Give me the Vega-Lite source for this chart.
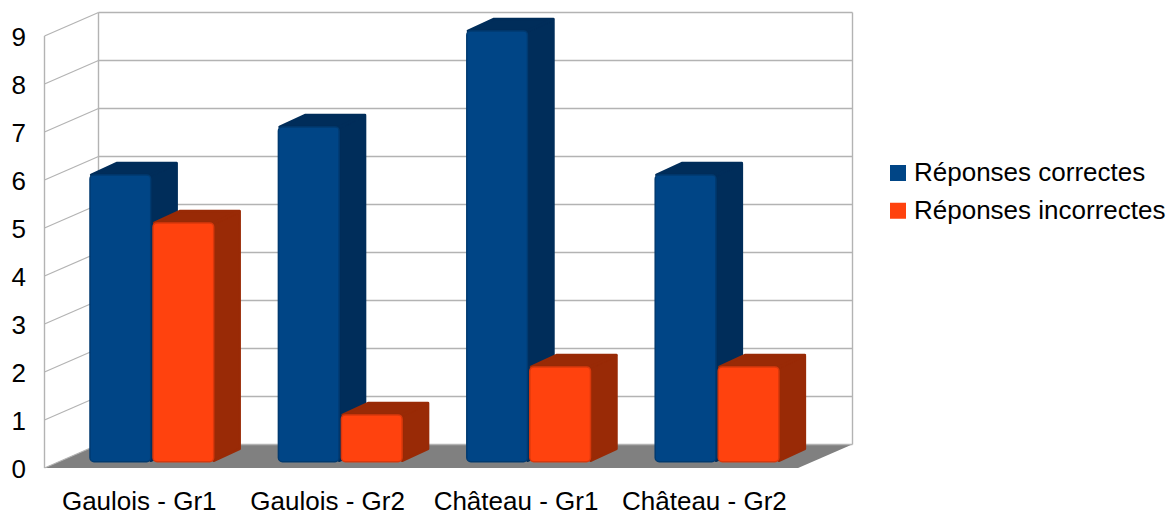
{
"$schema":"https://vega.github.io/schema/vega-lite/v6.json",
"width":808,"height":455.5,
"autosize":{"type":"none"},
"padding":{"left":44.5,"top":12.5,"right":316.5,"bottom":48},
"background":"white",
"config":{"view":{"stroke":null},"font":"Liberation Sans"},
"datasets":{
"bars":[
{"group":"Gaulois - Gr1","idx":0,"series":"Réponses correctes","value":6},
{"group":"Gaulois - Gr1","idx":0,"series":"Réponses incorrectes","value":5},
{"group":"Gaulois - Gr2","idx":1,"series":"Réponses correctes","value":7},
{"group":"Gaulois - Gr2","idx":1,"series":"Réponses incorrectes","value":1},
{"group":"Château - Gr1","idx":2,"series":"Réponses correctes","value":9},
{"group":"Château - Gr1","idx":2,"series":"Réponses incorrectes","value":2},
{"group":"Château - Gr2","idx":3,"series":"Réponses correctes","value":6},
{"group":"Château - Gr2","idx":3,"series":"Réponses incorrectes","value":2}
],
"ticks":[{"v":0},{"v":1},{"v":2},{"v":3},{"v":4},{"v":5},{"v":6},{"v":7},{"v":8},{"v":9}],
"floor":[{"t":0},{"t":1}]
},
"layer":[
{"data":{"name":"floor"},
 "transform":[{"calculate":"datum.t*0.2866","as":"xa"},{"calculate":"4+datum.t*0.2866","as":"xb"},{"calculate":"datum.t*0.49","as":"yy"}],
 "mark":{"type":"area","orient":"horizontal","color":"#808080"},
 "encoding":{
  "x":{"field":"xa","type":"quantitative","scale":{"domain":[0,4.2887],"nice":false,"zero":false},
    "axis":{"title":null,"values":[0.5,1.5,2.5,3.5],"labelExpr":"['Gaulois - Gr1','Gaulois - Gr2','Château - Gr1','Château - Gr2'][floor(datum.value)]","domain":false,"ticks":false,"grid":false,"labelFontSize":26,"labelColor":"#000000","labelPadding":20,"labelFont":"Liberation Sans","labelOverlap":false,"labelBound":false,"labelFlush":false}},
  "x2":{"field":"xb"},
  "y":{"field":"yy","type":"quantitative","stack":null,"scale":{"domain":[0,9.49],"nice":false,"zero":false},
    "axis":{"title":null,"values":[0,1,2,3,4,5,6,7,8,9],"domain":false,"ticks":false,"grid":false,"labelFontSize":26,"labelColor":"#000000","labelPadding":19,"labelFont":"Liberation Sans","labelOverlap":false,"labelBound":false,"labelFlush":false,"labelOffset":1}}
 }},
{"data":{"name":"ticks"},
 "transform":[{"calculate":"datum.v+0.49","as":"yb"},{"calculate":"0","as":"x0"},{"calculate":"0.2866","as":"x1"}],
 "mark":{"type":"rule","color":"#b3b3b3","strokeWidth":1.2},
 "encoding":{"x":{"field":"x0","type":"quantitative","axis":null},"x2":{"field":"x1"},"y":{"field":"v","type":"quantitative","axis":null},"y2":{"field":"yb"}}},
{"data":{"name":"ticks"},
 "transform":[{"calculate":"datum.v+0.49","as":"yb"},{"calculate":"0.2866","as":"x0"},{"calculate":"4.2887","as":"x1"}],
 "mark":{"type":"rule","color":"#b3b3b3","strokeWidth":1.4},
 "encoding":{"x":{"field":"x0","type":"quantitative","axis":null},"x2":{"field":"x1"},"y":{"field":"yb","type":"quantitative","axis":null}}},
{"data":{"values":[{"xp":0,"from":0,"to":9},{"xp":0.2866,"from":0.49,"to":9.49},{"xp":4.2887,"from":0.49,"to":9.49}]},
 "mark":{"type":"rule","color":"#b3b3b3","strokeWidth":1.4},
 "encoding":{"x":{"field":"xp","type":"quantitative","axis":null},"y":{"field":"from","type":"quantitative","axis":null},"y2":{"field":"to"}}},
{"data":{"name":"bars"},
 "transform":[
  {"calculate":"datum.series==='Réponses correctes'?0.2415:0.576","as":"off"},
  {"calculate":"datum.idx+datum.off","as":"xl"},
  {"calculate":"datum.xl+0.322","as":"xr"},
  {"calculate":"[0,1]","as":"t"},{"flatten":["t"]},
  {"calculate":"datum.xr+datum.t*0.138","as":"xs"},
  {"calculate":"0.15+datum.t*0.25","as":"y0"},
  {"calculate":"0.085+datum.t*0.25+datum.value","as":"y1"}
 ],
 "mark":{"type":"area","interpolate":"linear","strokeWidth":2.5,"strokeJoin":"round"},
 "encoding":{
  "x":{"field":"xs","type":"quantitative","axis":null},
  "y":{"field":"y1","type":"quantitative","axis":null,"stack":null},
  "y2":{"field":"y0"},
  "detail":{"field":"group"},
  "color":{"field":"series","type":"nominal","legend":null,"scale":{"domain":["Réponses correctes","Réponses incorrectes"],"range":["#002d5a","#992a06"]}},
  "stroke":{"field":"series","type":"nominal","legend":null,"scale":{"domain":["Réponses correctes","Réponses incorrectes"],"range":["#002d5a","#992a06"]}}
 }},
{"data":{"name":"bars"},
 "transform":[
  {"calculate":"datum.series==='Réponses correctes'?0.2415:0.576","as":"off"},
  {"calculate":"datum.idx+datum.off","as":"xl"},
  {"calculate":"datum.xl+0.322","as":"xr"},
  {"calculate":"[0,1]","as":"t"},{"flatten":["t"]},
  {"calculate":"datum.xl+0.006+datum.t*0.138","as":"xa"},
  {"calculate":"datum.xr+datum.t*0.138","as":"xb"},
  {"calculate":"0.105+datum.t*0.25+datum.value","as":"yy"}
 ],
 "mark":{"type":"area","orient":"horizontal","strokeWidth":2.5,"strokeJoin":"round"},
 "encoding":{
  "x":{"field":"xa","type":"quantitative","axis":null,"stack":null},
  "x2":{"field":"xb"},
  "y":{"field":"yy","type":"quantitative","axis":null},
  "detail":{"field":"group"},
  "color":{"field":"series","type":"nominal","legend":null,"scale":{"domain":["Réponses correctes","Réponses incorrectes"],"range":["#002d5a","#992a06"]}},
  "stroke":{"field":"series","type":"nominal","legend":null,"scale":{"domain":["Réponses correctes","Réponses incorrectes"],"range":["#002d5a","#992a06"]}}
 }},
{"data":{"name":"bars"},
 "transform":[
  {"calculate":"datum.series==='Réponses correctes'?0.2415:0.576","as":"off"},
  {"calculate":"datum.idx+datum.off","as":"xl"},
  {"calculate":"datum.xl+0.322","as":"xr"},
  {"calculate":"0.13","as":"y0"},
  {"calculate":"0.105+datum.value","as":"y1"}
 ],
 "mark":{"type":"rect","cornerRadius":4,"strokeWidth":1.5},
 "encoding":{
  "x":{"field":"xl","type":"quantitative","axis":null},
  "x2":{"field":"xr"},
  "y":{"field":"y1","type":"quantitative","axis":null},
  "y2":{"field":"y0"},
  "stroke":{"field":"series","type":"nominal","legend":null,"scale":{"domain":["Réponses correctes","Réponses incorrectes"],"range":["#003a70","#d9380c"]}},
  "fill":{"field":"series","type":"nominal","title":null,
    "scale":{"domain":["Réponses correctes","Réponses incorrectes"],"range":["#004586","#ff420e"]},
    "legend":{"orient":"none","legendX":840.5,"legendY":146,"title":null,"symbolType":"square","symbolSize":256,"symbolStrokeWidth":0,"labelFontSize":26,"labelFont":"Liberation Sans","labelColor":"#000000","labelOffset":3,"rowPadding":8.7,"labelLimit":400,"clipHeight":29}}
 }}
],
"resolve":{"scale":{"color":"independent","fill":"independent","stroke":"independent"},"axis":{"x":"independent","y":"independent"}}
}
